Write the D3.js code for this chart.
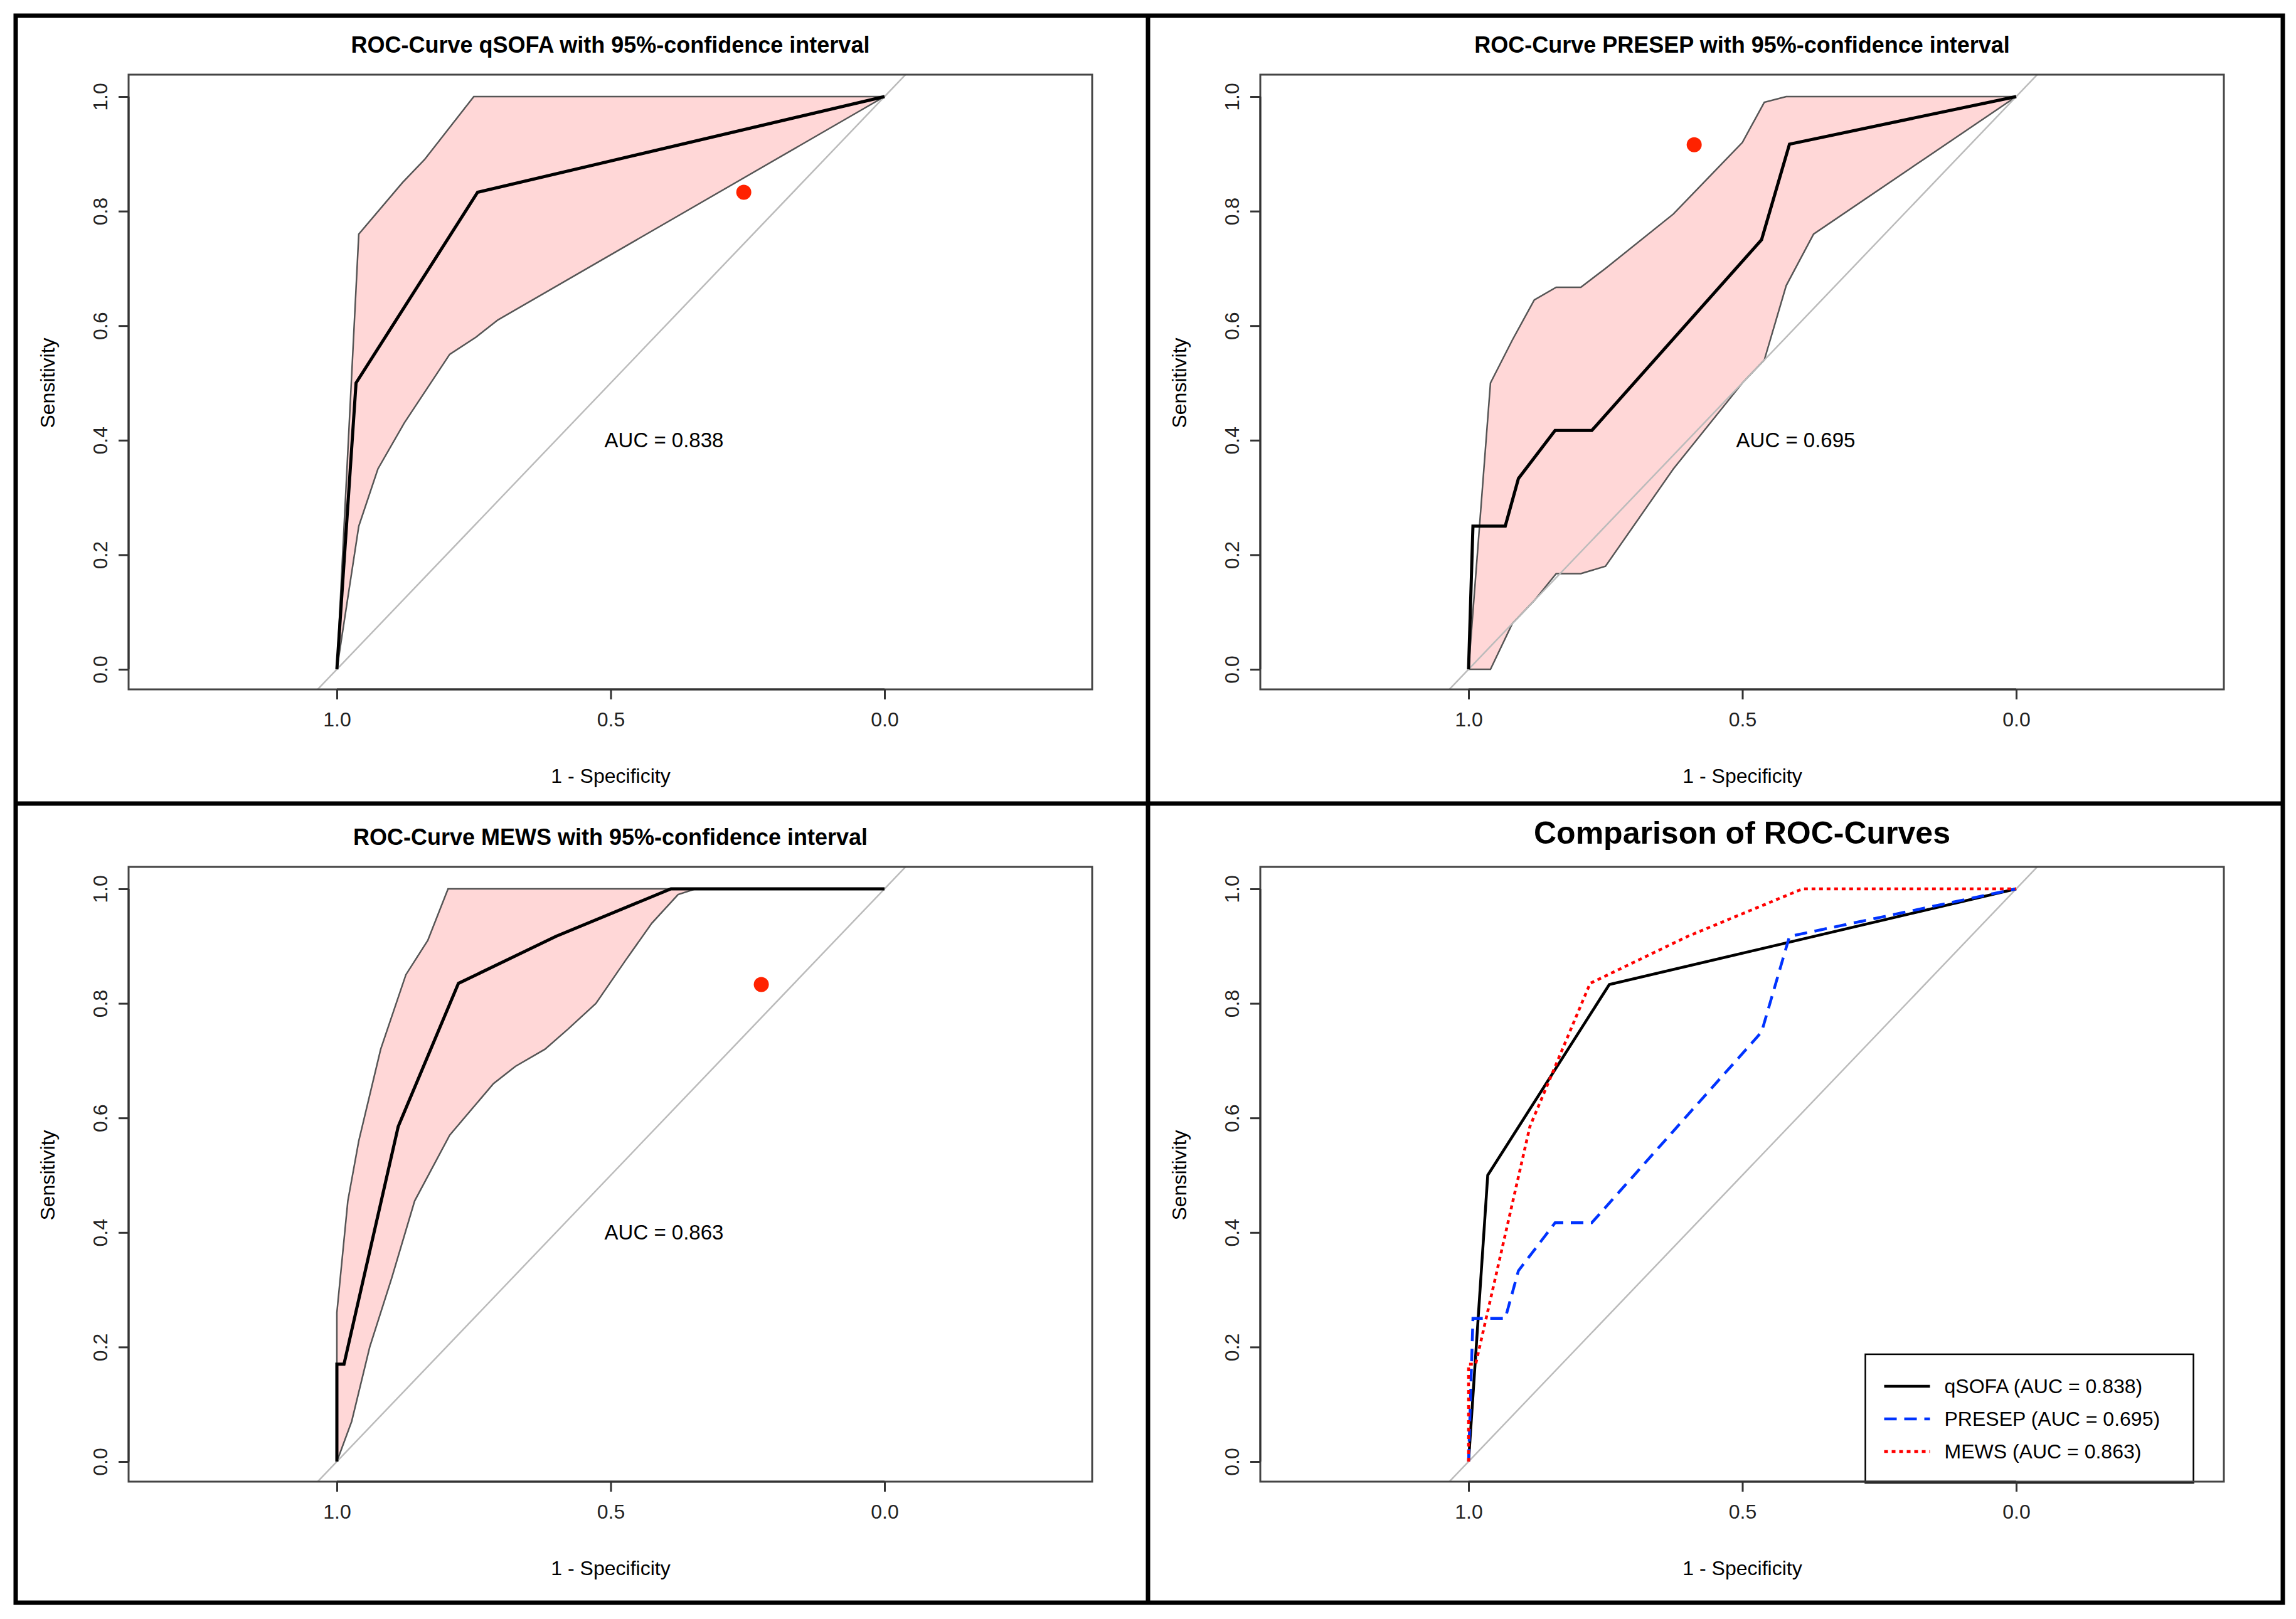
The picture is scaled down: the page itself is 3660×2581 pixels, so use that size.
<!DOCTYPE html>
<html><head><meta charset="utf-8">
<script src="https://cdnjs.cloudflare.com/ajax/libs/d3/7.8.5/d3.min.js"></script>
<style>body{margin:0;background:#fff}text{font-family:"Liberation Sans",Arial,sans-serif}</style>
</head><body><div class="chart"></div>
<script>
// data: [specificity, sensitivity]
var qsofaCurve = [[1,0],[0.965,0.5],[0.743,0.833],[0,1]];
var qsofaUpper = [[1,0],[0.96,0.76],[0.88,0.85],[0.84,0.89],[0.75,1],[0,1]];
var qsofaLower = [[1,0],[0.96,0.25],[0.925,0.35],[0.877,0.43],[0.794,0.55],[0.746,0.58],[0.706,0.61],[0,1]];
var qsofaPoint = [0.257,0.833];

var presepCurve = [[1,0],[0.992,0.25],[0.933,0.25],[0.909,0.333],[0.842,0.417],[0.775,0.417],[0.465,0.75],[0.414,0.917],[0,1]];
var presepUpper = [[1,0],[0.96,0.5],[0.92,0.575],[0.88,0.645],[0.84,0.667],[0.795,0.667],[0.75,0.70],[0.626,0.795],[0.5,0.92],[0.46,0.99],[0.42,1],[0,1]];
var presepLower = [[1,0],[0.96,0],[0.92,0.08],[0.88,0.12],[0.84,0.167],[0.795,0.167],[0.75,0.18],[0.626,0.35],[0.5,0.5],[0.46,0.54],[0.42,0.67],[0.37,0.76],[0,1]];
var presepPoint = [0.588,0.916];

var mewsCurve = [[1,0],[1,0.17],[0.987,0.17],[0.888,0.585],[0.778,0.835],[0.6,0.917],[0.39,1],[0,1]];
var mewsUpper = [[1,0],[1,0.26],[0.98,0.455],[0.96,0.56],[0.92,0.72],[0.874,0.85],[0.834,0.91],[0.797,1],[0.76,1],[0,1]];
var mewsLower = [[1,0],[0.973,0.07],[0.94,0.2],[0.9,0.32],[0.858,0.455],[0.794,0.57],[0.714,0.66],[0.674,0.69],[0.62,0.72],[0.578,0.755],[0.527,0.8],[0.473,0.875],[0.425,0.94],[0.377,0.99],[0.345,1],[0,1]];
var mewsPoint = [0.225,0.833];

var panelTitles = ["ROC-Curve qSOFA with 95%-confidence interval","ROC-Curve PRESEP with 95%-confidence interval","ROC-Curve MEWS with 95%-confidence interval","Comparison of ROC-Curves"];
var aucLabels = ["AUC = 0.838","AUC = 0.695","AUC = 0.863"];
var legendLabels = ["qSOFA (AUC = 0.838)","PRESEP (AUC = 0.695)","MEWS (AUC = 0.863)"];
var xTicks = [1.0,0.5,0.0];
var yTicks = [0,0.2,0.4,0.6,0.8,1.0];

var svg = d3.select(".chart").append("svg").attr("width",3660).attr("height",2581);

var panels = [
  {c:0,r:0,curve:qsofaCurve,upper:qsofaUpper,lower:qsofaLower,point:qsofaPoint},
  {c:1,r:0,curve:presepCurve,upper:presepUpper,lower:presepLower,point:presepPoint},
  {c:0,r:1,curve:mewsCurve,upper:mewsUpper,lower:mewsLower,point:mewsPoint},
  {c:1,r:1}
];

panels.forEach(function(p,i){
  var g = svg.append("g").attr("transform",`translate(${p.c*1804},${p.r*1263})`);
  var x = d3.scaleLinear().domain([1,0]).range([537,1410]);
  var y = d3.scaleLinear().domain([0,1]).range([1067,154]);
  var box = {l:205,r:1741,t:119,b:1099};

  g.append("clipPath").attr("id","clip"+i).append("rect")
    .attr("x",box.l).attr("y",box.t).attr("width",box.r-box.l).attr("height",box.b-box.t);

  var line = d3.line().x(d=>x(d[0])).y(d=>y(d[1]));

  g.append("text").attr("x",(box.l+box.r)/2).attr("y",i==3?1335-1263+10:84)
    .attr("text-anchor","middle").attr("font-weight","bold")
    .attr("font-size",i==3?50:36).text(panelTitles[i]);

  if (p.upper) {
    var band = p.upper.concat(p.lower.slice().reverse());
    g.append("path").attr("d",line(band)+"Z").attr("fill","#ffd7d7").attr("stroke","none");
    g.append("path").attr("d",line(p.upper)).attr("fill","none").attr("stroke","#555").attr("stroke-width",2.5);
    g.append("path").attr("d",line(p.lower)).attr("fill","none").attr("stroke","#555").attr("stroke-width",2.5);
  }

  // diagonal reference line
  g.append("line").attr("clip-path",`url(#clip${i})`)
    .attr("x1",x(1.2)).attr("y1",y(-0.2)).attr("x2",x(-0.2)).attr("y2",y(1.2))
    .attr("stroke","#bbb").attr("stroke-width",2.5);

  if (p.curve) {
    g.append("path").attr("d",line(p.curve)).attr("fill","none").attr("stroke","#000").attr("stroke-width",5);
    g.append("circle").attr("cx",x(p.point[0])).attr("cy",y(p.point[1])).attr("r",12).attr("fill","#ff2200");
    g.append("text").attr("x",x(0.5)+85).attr("y",y(0.4)+11).attr("text-anchor","middle")
      .attr("font-size",33).text(aucLabels[i]);
  } else {
    var series = [
      {d:qsofaCurve,color:"#000",dash:null},
      {d:presepCurve,color:"#0033ff",dash:"20,12"},
      {d:mewsCurve,color:"#ff0000",dash:"6,6"}
    ];
    series.forEach(function(s){
      g.append("path").attr("d",line(s.d)).attr("fill","none").attr("stroke",s.color)
        .attr("stroke-width",4.5).attr("stroke-dasharray",s.dash);
    });
    var lg = g.append("g").attr("transform","translate(2974,2159)".replace("2974,2159",`${1274*2.334-1804},${925*2.334-1263}`));
    lg.append("rect").attr("width",523).attr("height",205).attr("fill","#fff").attr("stroke","#000").attr("stroke-width",2.5);
    series.forEach(function(s,j){
      var yy = 51 + j*52;
      lg.append("line").attr("x1",30).attr("x2",103).attr("y1",yy).attr("y2",yy)
        .attr("stroke",s.color).attr("stroke-width",4.5).attr("stroke-dasharray",s.dash);
      lg.append("text").attr("x",126).attr("y",yy+11).attr("font-size",32).text(legendLabels[j]);
    });
  }

  // plot box
  g.append("rect").attr("x",box.l).attr("y",box.t).attr("width",box.r-box.l).attr("height",box.b-box.t)
    .attr("fill","none").attr("stroke","#444").attr("stroke-width",3);

  // axes
  var xAxis = g.append("g").attr("transform",`translate(0,${box.b})`)
    .call(d3.axisBottom(x).tickValues(xTicks).tickFormat(d3.format(".1f")).tickSize(16).tickPadding(20));
  var yAxis = g.append("g").attr("transform",`translate(${box.l},0)`)
    .call(d3.axisLeft(y).tickValues(yTicks).tickFormat(d3.format(".1f")).tickSize(16).tickPadding(14));
  [xAxis,yAxis].forEach(function(a){
    a.select(".domain").attr("stroke","#333").attr("stroke-width",3);
    a.selectAll(".tick line").attr("stroke","#333").attr("stroke-width",3);
    a.selectAll("text").attr("font-size",32).attr("fill","#222").attr("font-family","Liberation Sans, Arial, sans-serif");
  });
  xAxis.select(".domain").attr("d",`M${x(1)},0H${x(0)}`);
  yAxis.select(".domain").attr("d",`M0,${y(0)}V${y(1)}`);
  yAxis.selectAll(".tick text").attr("text-anchor","middle").attr("dy",0)
    .attr("transform",function(){ return "rotate(-90) translate(0,-34)"; }).attr("x",0).attr("y",0);

  g.append("text").attr("x",x(0.5)).attr("y",1248).attr("text-anchor","middle").attr("font-size",32).text("1 - Specificity");
  g.append("text").attr("transform",`translate(87,${y(0.5)}) rotate(-90)`).attr("text-anchor","middle").attr("font-size",32).text("Sensitivity");
});

// panel frame
svg.append("rect").attr("x",25).attr("y",25).attr("width",3614).attr("height",2530).attr("fill","none").attr("stroke","#000").attr("stroke-width",7);
svg.append("line").attr("x1",1830).attr("x2",1830).attr("y1",25).attr("y2",2555).attr("stroke","#000").attr("stroke-width",7);
svg.append("line").attr("x1",25).attr("x2",3639).attr("y1",1281).attr("y2",1281).attr("stroke","#000").attr("stroke-width",7);
</script></body></html>
